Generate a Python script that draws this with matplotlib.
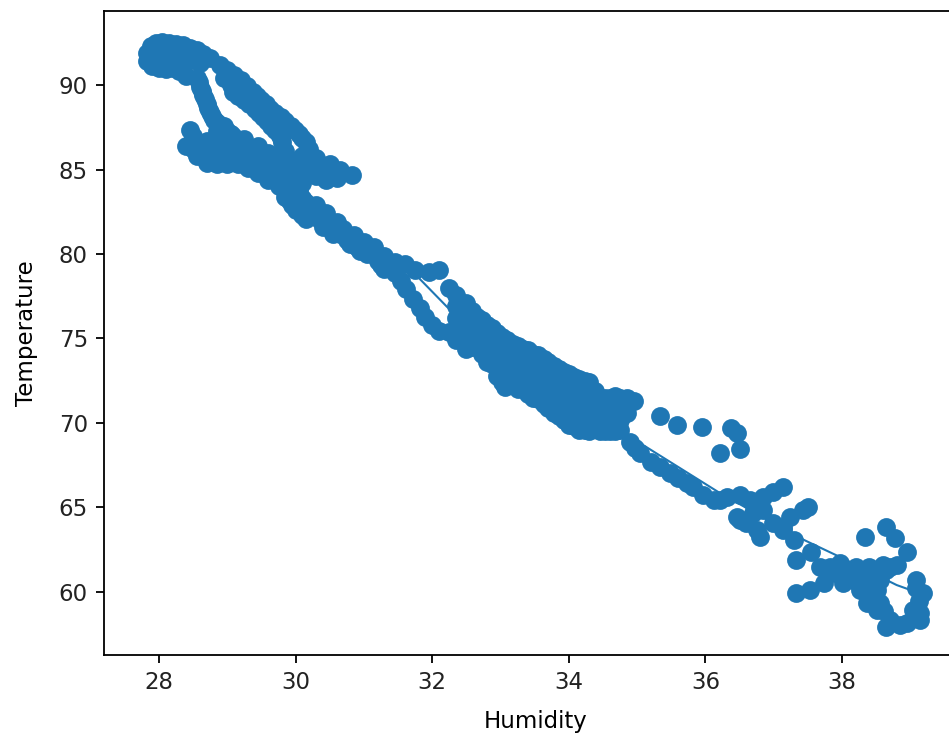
import matplotlib
matplotlib.use("Agg")
import matplotlib.pyplot as plt

# ---- data (Humidity, Temperature) ----
hum_top = [27.82, 27.83, 27.88, 27.95, 28.05, 28.15, 28.25, 28.35, 28.45, 28.55, 28.65,
           27.90, 28.00, 28.10, 28.20, 28.30, 28.40, 27.95, 28.10, 28.25, 28.40, 28.50,
           28.60, 28.15, 28.30, 28.75, 28.90]
temp_top = [91.4, 91.9, 92.3, 92.5, 92.55, 92.5, 92.45, 92.35, 92.2, 92.05, 91.85,
            91.1, 91.0, 90.95, 91.0, 90.8, 90.55, 91.7, 91.8, 91.9, 91.7, 91.5,
            91.3, 91.4, 91.3, 91.6, 91.2]

hum_arm = [29.0, 29.2, 29.38, 29.5, 29.63, 29.78, 29.93, 30.05, 30.15,
           28.95, 29.09, 29.24, 29.4, 29.52, 29.64, 29.75, 29.8,
           29.1, 29.29, 29.44, 29.57, 29.7, 29.85, 29.99, 30.1,
           29.05, 29.16, 29.32, 29.46, 29.58, 29.7, 29.78]
temp_arm = [90.9, 90.3, 89.6, 89.1, 88.6, 88.1, 87.6, 87.1, 86.6,
            90.4, 89.6, 89.1, 88.6, 88.1, 87.6, 87.1, 86.6,
            90.6, 89.95, 89.35, 88.85, 88.35, 87.85, 87.35, 86.85,
            90.0, 89.35, 88.85, 88.35, 87.85, 87.35, 86.85]

hum_left = [28.55, 28.6, 28.65, 28.7, 28.75, 28.8, 28.95, 28.85, 29.05, 29.25, 29.45,
            28.46, 28.5, 28.58, 28.63, 28.68, 28.72, 28.78]
temp_left = [90.4, 89.9, 89.4, 88.9, 88.4, 87.9, 87.6, 87.3, 87.1, 86.8, 86.4,
             87.35, 87.0, 90.15, 89.65, 89.15, 88.65, 88.15]

hum_low = [28.4, 28.55, 28.7, 28.85, 29.0, 29.15, 29.3, 29.45, 29.6, 29.75, 29.85, 29.95, 30.1,
           28.6, 28.75, 28.9, 29.0, 29.15, 29.3, 29.45, 29.6, 29.6, 29.75, 29.8, 29.95,
           29.95, 30.05, 30.1, 30.2, 28.7, 29.1, 29.85,
           28.5, 28.65, 28.8, 28.95, 29.1, 29.25, 29.4, 29.55, 29.7, 28.8, 29.2, 29.35, 29.5]
temp_low = [86.4, 85.8, 85.4, 85.3, 85.3, 85.35, 85.1, 84.8, 84.4, 84.0, 83.4, 82.9, 82.3,
            86.4, 86.0, 86.5, 86.0, 86.1, 85.8, 85.6, 85.3, 86.0, 85.7, 84.9, 85.3,
            84.3, 83.8, 83.3, 82.8, 86.7, 86.6, 86.1,
            86.2, 85.9, 85.8, 85.7, 85.7, 85.5, 85.3, 84.9, 84.6, 86.3, 86.3, 86.1, 85.9]

hum_bump = [30.2, 30.3, 30.1, 30.15, 30.35, 30.5, 30.65, 30.82, 30.6, 30.45, 30.3,
            30.2, 30.05, 30.0, 30.1, 29.9, 30.0]
temp_bump = [86.2, 85.7, 85.8, 85.2, 85.2, 85.3, 85.0, 84.68, 84.5, 84.35, 84.6,
             84.9, 84.7, 85.5, 84.2, 84.6, 84.1]

hum_mid = [30.25, 30.3, 30.4, 30.45, 30.55, 30.6, 30.7, 30.75, 30.85, 30.9, 31.0,
           31.05, 31.15, 31.2, 31.3, 31.3,
           29.85, 29.9, 30.0, 30.15, 30.35, 30.5, 30.65, 30.8, 30.95, 31.1, 31.25]
temp_mid = [82.4, 82.9, 81.6, 82.4, 81.2, 81.9, 81.5, 80.8, 81.1, 80.4, 80.7,
            80.0, 80.4, 79.6, 79.9, 79.1,
            83.9, 83.2, 82.6, 82.1, 82.1, 81.6, 81.2, 80.6, 80.2, 80.2, 79.35]

hum_shelf = [31.45, 31.6, 31.75, 31.95, 32.1,
             31.45, 31.55, 31.62, 31.72, 31.82, 31.9, 32.0, 32.1]
temp_shelf = [79.5, 79.4, 79.05, 78.95, 79.05,
              78.9, 78.4, 77.9, 77.35, 76.8, 76.3, 75.8, 75.45]

hum_thick = [32.25, 32.25,
             32.35, 32.35, 32.35, 32.35, 32.35,
             32.43, 32.43, 32.43, 32.43,
             32.5, 32.5, 32.5, 32.5, 32.5,
             32.58, 32.58, 32.58, 32.58,
             32.65, 32.65, 32.65, 32.65,
             32.73, 32.73, 32.73, 32.73,
             32.8, 32.8, 32.8, 32.8, 32.8,
             32.88, 32.88, 32.88, 32.88,
             32.95, 32.95, 32.95, 32.95, 32.95,
             33.02, 33.02, 33.02, 33.02, 33.02,
             33.07,
             33.1, 33.1, 33.1, 33.1, 33.1,
             33.18, 33.18, 33.18, 33.18,
             33.25, 33.25, 33.25, 33.25, 33.25,
             33.33, 33.33, 33.33, 33.33,
             33.4, 33.4, 33.4, 33.4, 33.4,
             33.48, 33.48, 33.48, 33.48, 33.48,
             33.55, 33.55, 33.55, 33.55, 33.55,
             33.63, 33.63, 33.63, 33.63, 33.63,
             33.7, 33.7, 33.7, 33.7, 33.7,
             33.78, 33.78, 33.78, 33.78, 33.78,
             33.85, 33.85, 33.85, 33.85, 33.85,
             33.93, 33.93, 33.93, 33.93, 33.93,
             34.0, 34.0, 34.0, 34.0, 34.0,
             34.08, 34.08, 34.08, 34.08, 34.08,
             34.15, 34.15, 34.15, 34.15, 34.15,
             34.23, 34.23, 34.23, 34.23, 34.23,
             34.3, 34.3, 34.3, 34.3, 34.3,
             34.38, 34.38, 34.38, 34.38,
             34.45, 34.45, 34.45, 34.45,
             34.53, 34.53, 34.53, 34.53,
             34.6, 34.6, 34.6, 34.6,
             34.68, 34.68, 34.68, 34.68,
             34.75, 34.75, 34.75, 34.75,
             34.85, 34.85,
             34.95]
temp_thick = [78.0, 75.4,
              77.6, 76.9, 76.2, 75.5, 74.9,
              77.0, 76.3, 75.6, 74.9,
              77.1, 76.4, 75.7, 75.0, 74.4,
              76.6, 75.9, 75.2, 74.5,
              76.3, 75.7, 75.1, 74.5,
              76.1, 75.4, 74.7, 74.1,
              75.8, 75.2, 74.6, 74.0, 73.6,
              75.6, 74.9, 74.2, 73.5,
              75.3, 74.7, 74.1, 73.4, 72.8,
              75.1, 74.4, 73.7, 73.0, 72.4,
              72.1,
              74.9, 74.3, 73.7, 73.0, 72.4,
              74.7, 74.0, 73.3, 72.6,
              74.55, 73.9, 73.3, 72.6, 72.0,
              74.4, 73.7, 73.0, 72.3,
              74.3, 73.6, 72.9, 72.2, 71.7,
              74.1, 73.4, 72.7, 72.0, 71.5,
              74.0, 73.3, 72.6, 72.0, 71.4,
              73.8, 73.1, 72.4, 71.7, 71.1,
              73.6, 72.9, 72.2, 71.5, 70.9,
              73.4, 72.7, 72.0, 71.3, 70.6,
              73.2, 72.5, 71.8, 71.1, 70.4,
              73.0, 72.3, 71.6, 70.9, 70.2,
              72.9, 72.2, 71.5, 70.7, 69.9,
              72.7, 72.0, 71.3, 70.6, 69.8,
              72.6, 71.9, 71.2, 70.5, 69.6,
              72.5, 71.8, 71.1, 70.4, 69.6,
              72.4, 71.6, 70.9, 70.2, 69.5,
              71.9, 71.2, 70.5, 69.8,
              71.4, 70.7, 70.0, 69.5,
              71.5, 70.8, 70.1, 69.5,
              71.5, 70.8, 70.1, 69.5,
              71.6, 70.8, 70.1, 69.5,
              71.5, 70.9, 70.2, 69.6,
              71.5, 70.6,
              71.3]

hum_tail = [34.9, 34.97, 35.04, 35.21, 35.34, 35.48, 35.6, 35.73, 35.82, 35.97, 36.12,
            36.21, 36.31, 36.5, 36.65, 36.85, 36.99, 37.14]
temp_tail = [68.9, 68.5, 68.2, 67.71, 67.41, 67.02, 66.73, 66.43, 66.23, 65.74, 65.44,
             65.44, 65.64, 65.74, 65.44, 65.64, 65.94, 66.23]

hum_iso = [35.34, 35.59, 35.95, 36.37, 36.46, 36.22, 36.5]
temp_iso = [70.41, 69.88, 69.78, 69.68, 69.38, 68.24, 68.44]

hum_step = [36.85, 36.5, 36.7, 36.46, 36.6, 36.75, 36.8, 36.99, 37.14, 37.29, 37.24,
            37.43, 37.5, 37.14, 37.33, 37.55]
temp_step = [64.85, 64.26, 64.65, 64.45, 64.06, 63.67, 63.27, 64.06, 63.67, 63.08, 64.45,
             64.85, 65.0, 63.87, 61.89, 62.38]

hum_end = [37.33, 37.53, 37.73, 37.68, 37.82, 37.97, 38.12, 38.31, 38.51, 38.7, 38.8,
           38.65, 38.02, 38.26, 38.46, 38.56, 38.36, 38.16, 38.36, 38.56, 38.51, 38.51,
           38.65, 38.7, 38.85, 38.95, 39.14, 39.14, 39.04, 39.19, 39.12, 39.09, 39.09,
           38.95, 38.78, 38.65, 38.34, 38.62, 38.2, 38.4, 37.9, 38.6]
temp_end = [59.92, 60.12, 60.51, 61.5, 61.5, 61.7, 61.1, 61.1, 61.1, 61.5, 61.6,
            61.3, 60.51, 60.12, 59.72, 59.33, 59.33, 60.71, 60.51, 60.71, 60.12, 58.93,
            57.95, 58.34, 58.05, 58.15, 58.34, 58.74, 58.93, 59.92, 59.45, 60.71, 60.25,
            62.38, 63.18, 63.87, 63.27, 58.9, 61.5, 61.5, 61.1, 61.6]

# fitted line drawn over the points
fit_x = [28.6, 29.0, 29.48, 30.5, 31.2, 31.79, 32.22, 34.9, 36.21, 37.38, 37.97, 38.8, 39.0, 39.15]
fit_y = [89.3, 87.9, 86.25, 82.4, 80.0, 78.64, 76.86, 69.17, 65.86, 63.2, 62.07, 60.41, 60.12, 59.9]

x_ticks = [28, 30, 32, 34, 36, 38]
y_ticks = [60, 65, 70, 75, 80, 85, 90]

humidity = (hum_top + hum_arm + hum_left + hum_low + hum_bump + hum_mid + hum_shelf +
            hum_thick + hum_tail + hum_iso + hum_step + hum_end)
temperature = (temp_top + temp_arm + temp_left + temp_low + temp_bump + temp_mid + temp_shelf +
               temp_thick + temp_tail + temp_iso + temp_step + temp_end)

blue = '#1f77b4'
fig = plt.figure(figsize=(9.49, 7.38), dpi=100)
ax = fig.add_axes([0.10959, 0.11247, 0.90938, 0.87263])
ax.scatter(humidity, temperature, s=145, color=blue, edgecolors='face', linewidths=1.5)
ax.plot(fit_x, fit_y, color=blue, lw=1.5)
ax.set_xlim(27.195, 39.83)
ax.set_ylim(56.27, 94.38)
ax.set_xticks(x_ticks)
ax.set_yticks(y_ticks)
ax.tick_params(labelsize=16.5, length=5.8, width=1.3, pad=5.8, labelcolor='#222222')
for sp in ax.spines.values():
    sp.set_linewidth(1.3)
ax.set_xlabel('Humidity', fontsize=16.5, labelpad=11.5)
ax.set_ylabel('Temperature', fontsize=16.5, labelpad=15)
fig.savefig('out.png', dpi=100)
